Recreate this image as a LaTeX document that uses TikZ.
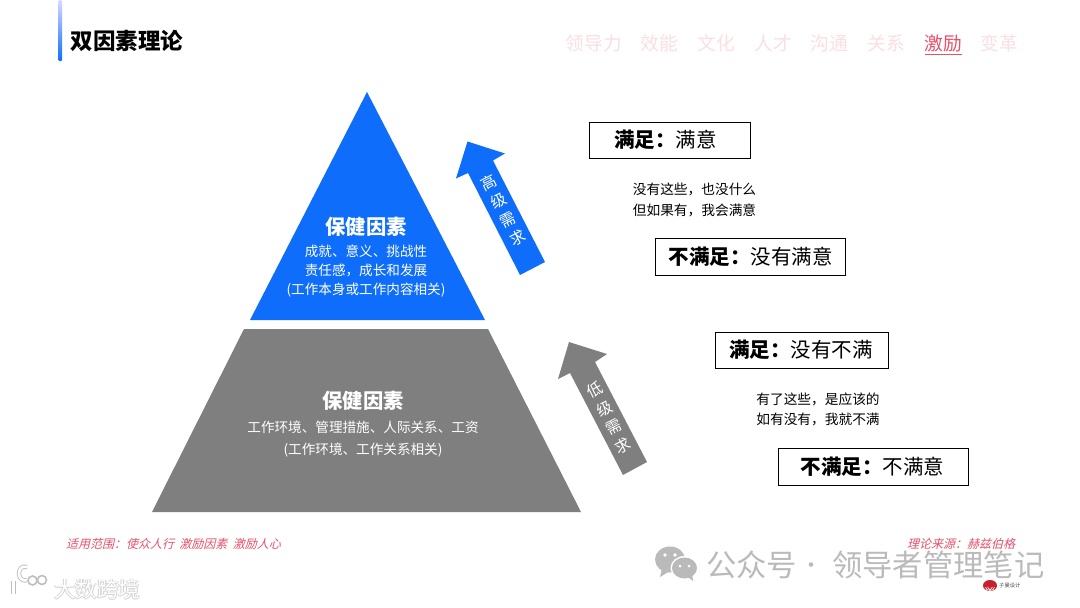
\documentclass[tikz,border=0pt]{standalone}
\usepackage{fontspec}
\setmainfont{Noto Sans CJK SC}
\definecolor{blueA}{HTML}{0E6EFB}
\definecolor{grayA}{HTML}{7F7F7F}
\definecolor{pinkA}{HTML}{FADFE3}
\definecolor{redA}{HTML}{E8506A}
\definecolor{markG}{HTML}{BABABA}
\definecolor{logoR}{HTML}{C8202C}
\tikzset{
  labelbox/.style={draw=black,line width=1pt,fill=white,inner sep=0pt,font=\fontsize{20.5}{24}\selectfont,text=black},
  note/.style={align=center,font=\fontsize{13.7}{20.5}\selectfont,text=black,inner sep=0pt},
  pyrhead/.style={font=\bfseries\fontsize{20.3}{24}\selectfont,text=white,inner sep=0pt},
  pyrtext/.style={align=center,font=\fontsize{13.6}{19}\selectfont,text=white,inner sep=0pt},
  navitem/.style={font=\fontsize{18.7}{22}\selectfont,text=pinkA,inner sep=0pt},
  arrowch/.style={font=\fontsize{15.5}{18}\selectfont,text=white,inner sep=0pt,rotate=27},
  foot/.style={font=\fontsize{12}{14}\selectfont,text=redA,inner sep=0pt,xslant=0.25},
  markT/.style={font=\fontsize{30.3}{32}\selectfont,text=markG,inner sep=0pt},
  cornerG/.style={inner sep=0pt,font=\fontsize{21.5}{24}\selectfont,text=black!18},
}
\begin{document}
\begin{tikzpicture}[x=1pt,y=-1pt]
\useasboundingbox (0,0) rectangle (1080,608);
\fill[white] (0,0) rectangle (1080,608);
% title bar
\shade[top color=blue!15!white,bottom color=blueA,rounded corners=1pt] (58.5,0) rectangle (62,61);
\node[anchor=west,inner sep=0pt,font=\bfseries\fontsize{22.5}{26}\selectfont,text=black] (title) at (70.5,40.5) {双因素理论};
% nav
\node[navitem] (n1) at (594,43) {领导力};
\node[navitem] (n2) at (659.5,43) {效能};
\node[navitem] (n3) at (716.5,43) {文化};
\node[navitem] (n4) at (773,43) {人才};
\node[navitem] (n5) at (829.5,43) {沟通};
\node[navitem] (n6) at (886,43) {关系};
\node[navitem,text=redA] (n7) at (943,43) {激励};
\node[navitem] (n8) at (999,43) {变革};
\draw[redA,line width=0.8pt] (925,54) -- (961.5,54);
% pyramid
\fill[blueA] (367,92) -- (485,320) -- (250,320) -- cycle;
\fill[grayA] (244,329) -- (488,329) -- (581,512) -- (152,512) -- cycle;
\node[pyrhead] (h1) at (366,227) {保健因素};
\node[pyrtext] (t1) at (366,271.5) {成就、意义、挑战性\\责任感，成长和发展\\(工作本身或工作内容相关)};
\node[pyrhead] (h2) at (363,401) {保健因素};
\node[pyrtext,font=\fontsize{13.6}{22}\selectfont] (t2) at (363,439.5) {工作环境、管理措施、人际关系、工资\\(工作环境、工作关系相关)};
% arrows
\fill[blueA] (467.5,141.5) -- (505,153.5) -- (493,160.5) -- (545,262) -- (520,275) -- (468,173) -- (456,178.5) -- cycle;
\fill[grayA] (569,342) -- (607,354) -- (595,362) -- (647,462) -- (623,475) -- (570,373) -- (558,379) -- cycle;
\node[arrowch] (a1) at (489,183) {高};
\node[arrowch] (a2) at (499,201) {级};
\node[arrowch] (a3) at (508,220.5) {需};
\node[arrowch] (a4) at (518,238) {求};
\node[arrowch] (b1) at (595,390) {低};
\node[arrowch] (b2) at (605,409) {级};
\node[arrowch] (b3) at (613.5,427.5) {需};
\node[arrowch] (b4) at (623,446) {求};
% boxes
\node[labelbox,minimum width=161pt,minimum height=36pt] (s1) at (670,140) {\textbf{满足：}满意\hspace*{9pt}};
\node[note] (c1) at (694.5,200) {没有这些，也没什么\\但如果有，我会满意};
\node[labelbox,minimum width=190pt,minimum height=37pt] (s2) at (750.5,256.5) {\textbf{不满足：}没有满意};
\node[labelbox,minimum width=173pt,minimum height=36pt] (s3) at (801.5,350) {\textbf{满足：}没有不满\hspace*{1pt}};
\node[note] (c2) at (818,409.5) {有了这些，是应该的\\如有没有，我就不满};
\node[labelbox,minimum width=190pt,minimum height=37pt] (s4) at (873,466.5) {\textbf{不满足：}不满意\hspace*{1pt}};
% footers
\node[foot,anchor=west] (f1) at (67,544) {适用范围：使众人行\ \ 激励因素\ \ 激励人心};
% watermark
\node[markT,anchor=west] (m1) at (706,564.5) {公众号};
\fill[markG] (811,564.5) circle (2.3);
\node[markT,anchor=west] (m3) at (832,564.5) {领导者管理笔记};
\fill[markG] (670,559.5) ellipse (15 and 13);
\fill[markG] (662,568) -- (660,577) -- (670,571) -- cycle;
\fill[white] (684.5,568) ellipse (14 and 12);
\fill[markG] (684.5,568) ellipse (12.5 and 10.5);
\fill[markG] (688,577) -- (693,581) -- (692,573) -- cycle;
\fill[white] (665,555) circle (1.9) (675,555) circle (1.9) (680,566) circle (1.5) (689,566) circle (1.5);
\node[foot,anchor=west] (f2) at (908,544) {理论来源：赫兹伯格};
% small logo
\fill[logoR] (990,585.5) ellipse (7 and 5.5);
\draw[white,line width=0.6pt] (985.5,587) arc (180:0:4.5 and 3.5);
\draw[white,line width=0.6pt] (987.5,587) -- (990,590) -- (992.5,587);
\node[inner sep=0pt,anchor=west,font=\fontsize{5.3}{6}\selectfont,text=black!70] (lg) at (999,585) {子曼设计};
% corner watermark
\node[cornerG,anchor=west] at (53.2,589.8) {大数跨境};
\node[cornerG,anchor=west] at (54.8,589.8) {大数跨境};
\node[cornerG,anchor=west] at (54,590.4) {大数跨境};
\node[inner sep=0pt,anchor=west,font=\fontsize{21.5}{24}\selectfont,text=white] (m2) at (54,589) {大数跨境};
\draw[black!25,line width=5pt] (13.5,581) -- (13.5,594);
\draw[white,line width=3pt] (13.5,581) -- (13.5,594);
\draw[black!25,line width=4.4pt] (27,580) arc (70:290:6 and 7);
\draw[white,line width=2.6pt] (27,580) arc (70:290:6 and 7);
\draw[black!25,line width=1.6pt] (32.5,580.5) circle (4.5) (42,580) circle (4.5);
\end{tikzpicture}
\end{document}
